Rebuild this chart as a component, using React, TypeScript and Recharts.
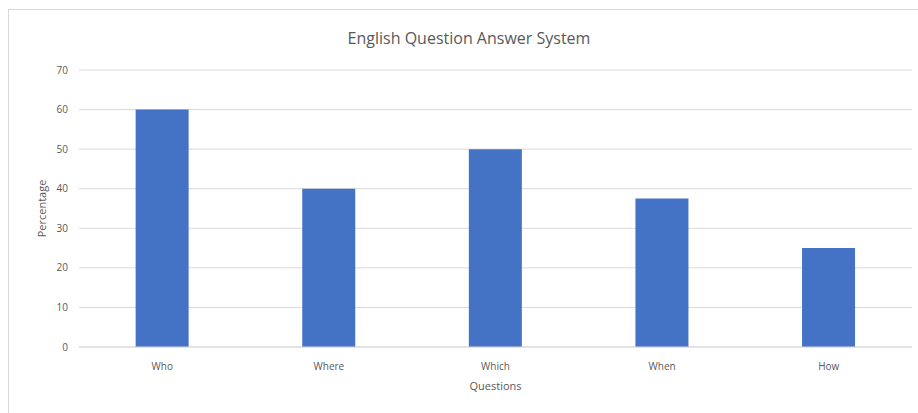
import { BarChart, Bar, XAxis, YAxis, CartesianGrid } from "recharts"

const questions = ["Who", "Where", "Which", "When", "How"]
const percentages = [60, 40, 50, 37.5, 25]
const yTicks = [0, 10, 20, 30, 40, 50, 60, 70]

const data = questions.map((q, i) => ({ question: q, value: percentages[i] }))

const FONT = "'Open Sans', sans-serif"
const GREY = "#595959"

export default function App() {
  return (
    <div style={{ position: "absolute", left: 0, top: 0, width: 918, height: 413, background: "#fff", fontFamily: FONT, overflow: "hidden" }}>
      <div
        style={{
          position: "absolute",
          left: 8,
          top: 9,
          width: 930,
          height: 420,
          border: "1px solid #d9d9d9",
          boxSizing: "border-box",
        }}
      />
      <div style={{ position: "absolute", left: 0, width: 938, top: 27, textAlign: "center", fontSize: 16, color: GREY }}>
        English Question Answer System
      </div>
      <BarChart
        width={918}
        height={413}
        data={data}
        margin={{ top: 70, right: 6, bottom: 0, left: 0 }}
        barCategoryGap="34%"
        style={{ position: "absolute", left: 0, top: 0 }}
      >
        <CartesianGrid vertical={false} stroke="#d9d9d9" />
        <XAxis
          dataKey="question"
          height={66}
          axisLine={{ stroke: "#d9d9d9" }}
          tickLine={false}
          tickMargin={10}
          tick={{ fill: GREY, fontSize: 10, fontFamily: FONT }}
          label={{ value: "Questions", position: "insideBottom", offset: 23, fill: GREY, fontSize: 11, fontFamily: FONT }}
        />
        <YAxis
          width={79}
          domain={[0, 70]}
          ticks={yTicks}
          axisLine={false}
          tickLine={false}
          tickMargin={5}
          tick={{ fill: GREY, fontSize: 10, fontFamily: FONT }}
          label={{ value: "Percentage", angle: -90, position: "center", dx: 3, fill: GREY, fontSize: 11, fontFamily: FONT }}
        />
        <Bar dataKey="value" fill="#4472c4" isAnimationActive={false} />
      </BarChart>
    </div>
  )
}
